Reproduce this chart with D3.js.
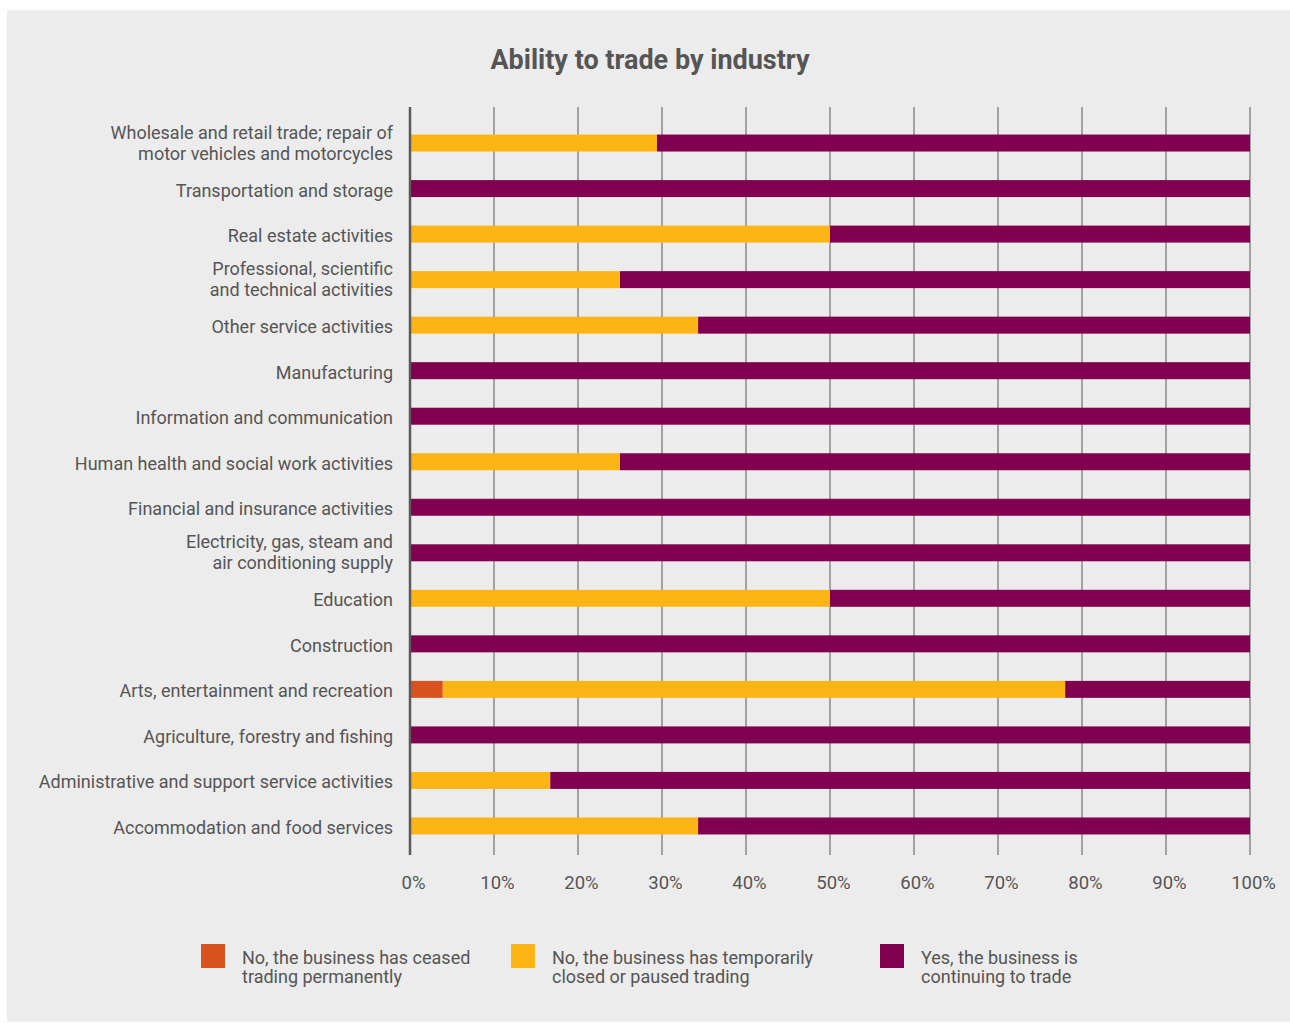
<!DOCTYPE html>
<html>
<head>
<meta charset="utf-8">
<script src="https://cdn.jsdelivr.net/npm/d3@7"></script>
<style>
  html, body { margin: 0; padding: 0; background: #ffffff; }
  svg { display: block; }
  text { font-family: Roboto, "Open Sans", sans-serif; }
</style>
</head>
<body>
<svg id="chart" width="1290" height="1023"></svg>
<script>
// Industry rows, top to bottom (multi-line labels split with "\n")
const industries = [
  "Wholesale and retail trade; repair of\nmotor vehicles and motorcycles",
  "Transportation and storage",
  "Real estate activities",
  "Professional, scientific\nand technical activities",
  "Other service activities",
  "Manufacturing",
  "Information and communication",
  "Human health and social work activities",
  "Financial and insurance activities",
  "Electricity, gas, steam and\nair conditioning supply",
  "Education",
  "Construction",
  "Arts, entertainment and recreation",
  "Agriculture, forestry and fishing",
  "Administrative and support service activities",
  "Accommodation and food services"
];

// Share of businesses (%) per answer
const ceasedPermanently = [0, 0, 0, 0, 0, 0, 0, 0, 0, 0, 0, 0, 3.9, 0, 0, 0];
const temporarilyClosed = [29.4, 0, 50, 25, 34.3, 0, 0, 25, 0, 0, 50, 0, 74.1, 0, 16.7, 34.3];
const continuingToTrade = [70.6, 100, 50, 75, 65.7, 100, 100, 75, 100, 100, 50, 100, 22.0, 100, 83.3, 65.7];

const seriesNames = [
  "No, the business has ceased\ntrading permanently",
  "No, the business has temporarily\nclosed or paused trading",
  "Yes, the business is\ncontinuing to trade"
];
const seriesColors = ["#D8521F", "#FDB515", "#80004F"];
const tickValues = [0, 10, 20, 30, 40, 50, 60, 70, 80, 90, 100];

const svg = d3.select("#chart");

// panel background
svg.append("rect")
  .attr("x", 7).attr("y", 10).attr("width", 1283).attr("height", 1012)
  .attr("fill", "#ececec");

svg.append("text")
  .attr("x", 650).attr("y", 69)
  .attr("text-anchor", "middle")
  .attr("font-size", 27).attr("font-weight", 700)
  .attr("fill", "#555555")
  .text("Ability to trade by industry");

const x = d3.scaleLinear().domain([0, 100]).range([410, 1250]);
const y = d3.scaleBand().domain(industries).range([106, 863]).padding(0.627);

// vertical gridlines
svg.append("g").selectAll("line")
  .data(tickValues.slice(1))
  .join("line")
  .attr("x1", d => x(d)).attr("x2", d => x(d))
  .attr("y1", 107).attr("y2", 855)
  .attr("stroke", "#8f8f8f").attr("stroke-width", 1.6);

// stacked bars
const rows = industries.map((name, i) => ({
  name,
  ceased: ceasedPermanently[i],
  temp: temporarilyClosed[i],
  yes: continuingToTrade[i]
}));
const stack = d3.stack().keys(["ceased", "temp", "yes"]);
const layers = stack(rows);

svg.append("g").selectAll("g")
  .data(layers)
  .join("g")
  .attr("fill", (d, i) => seriesColors[i])
  .selectAll("rect")
  .data(d => d.filter(s => s[1] - s[0] > 0))
  .join("rect")
  .attr("x", d => x(d[0]))
  .attr("width", d => x(d[1]) - x(d[0]))
  .attr("y", d => y(d.data.name))
  .attr("height", y.bandwidth());

// left axis line
svg.append("line")
  .attr("x1", x(0)).attr("x2", x(0))
  .attr("y1", 107).attr("y2", 855)
  .attr("stroke", "#5a5a5a").attr("stroke-width", 2.5);

// category labels
const catLabels = svg.append("g").selectAll("text")
  .data(industries)
  .join("text")
  .attr("text-anchor", "end")
  .attr("font-size", 18)
  .attr("fill", "#555555")
  .attr("x", 393);
catLabels.each(function(d) {
  const lines = d.split("\n");
  const cy = y(d) + y.bandwidth() / 2;
  const lh = 21;
  const t = d3.select(this);
  lines.forEach((ln, k) => {
    t.append("tspan")
      .attr("x", 393)
      .attr("y", cy + (k - (lines.length - 1) / 2) * lh + (lines.length > 1 ? 6 : 8))
      .text(ln);
  });
});

// x tick labels
const xAxis = d3.axisBottom(x).tickValues(tickValues).tickFormat(d => d + "%").tickSize(0).tickPadding(0);
const ax = svg.append("g").attr("transform", "translate(0,876)").call(xAxis);
ax.select(".domain").remove();
ax.selectAll("text")
  .attr("font-size", 18.5)
  .attr("fill", "#555555")
  .attr("dx", 3)
  .style("font-family", "Roboto, 'Open Sans', sans-serif");

// legend
const legendX = [201, 511, 880];
const lg = svg.append("g").selectAll("g")
  .data(seriesNames)
  .join("g")
  .attr("transform", (d, i) => `translate(${legendX[i]},944)`);
lg.append("rect")
  .attr("width", 24).attr("height", 24)
  .attr("fill", (d, i) => seriesColors[i]);
lg.append("text")
  .attr("font-size", 18)
  .attr("fill", "#555555")
  .each(function(d) {
    const t = d3.select(this);
    d.split("\n").forEach((ln, k) => {
      t.append("tspan").attr("x", 41).attr("y", 20 + k * 19).text(ln);
    });
  });
</script>
</body>
</html>
